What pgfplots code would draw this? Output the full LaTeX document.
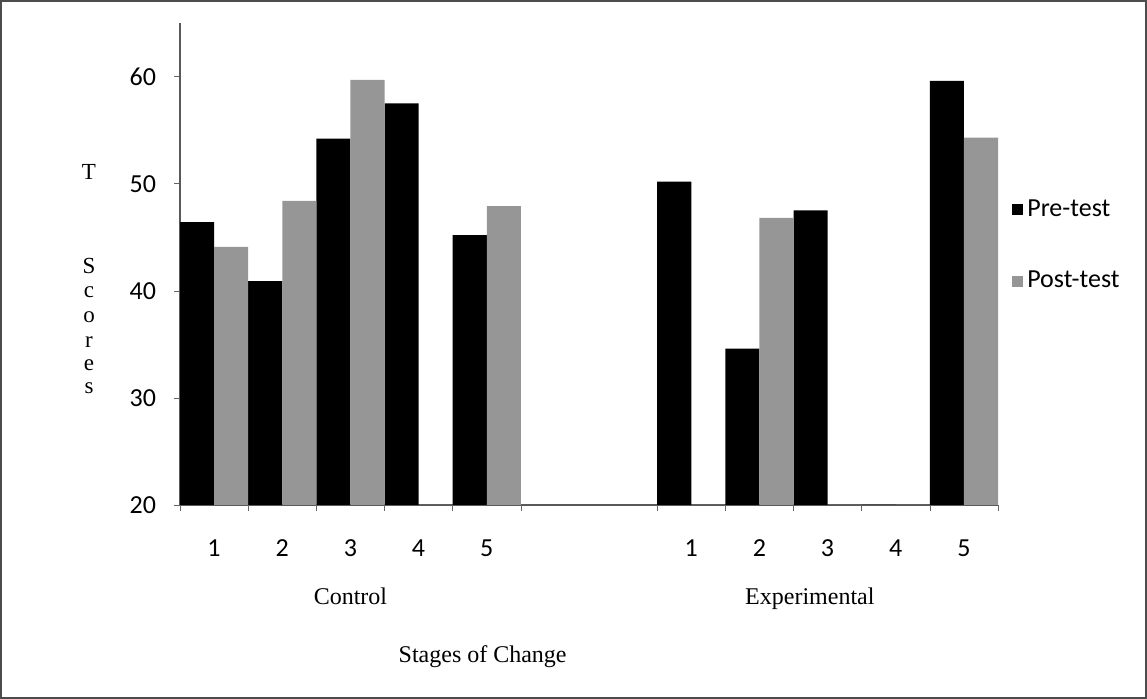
\documentclass[border=0pt]{standalone}
\usepackage{pgfplots}
\pgfplotsset{compat=1.18}
\usepackage{fontspec}
\setmainfont{Liberation Serif}
\newfontfamily\calibri{Carlito}
\definecolor{postgray}{RGB}{150,150,150}
\begin{document}
\begin{tikzpicture}
\path[use as bounding box] (0,0) rectangle (573.5pt,349.5pt);
\draw[black!70, line width=0.8pt] (0.5pt,0.5pt) rectangle (573pt,349pt);
\begin{axis}[
  at={(90pt,97pt)}, anchor=south west,
  scale only axis, width=409pt, height=241pt,
  xmin=-0.5, xmax=11.5, ymin=20, ymax=65,
  axis lines=left, axis line style={-, black!65, line width=0.6pt},
  ybar=0pt, bar width=0.5,
  ytick={20,30,40,50,60},
  xtick={0,1,2,3,4,7,8,9,10,11},
  xticklabels={1,2,3,4,5,1,2,3,4,5},
  tick align=outside, major tick length=3pt,
  xtick style={draw=none},
  ytick style={draw=black!60},
  extra x ticks={-0.5,0.5,1.5,2.5,3.5,4.5,6.5,7.5,8.5,9.5,10.5,11.5},
  extra x tick labels={},
  extra x tick style={xtick style={draw=black!60}},
  /pgf/number format/assume math mode=true,
  ticklabel style={font=\calibri\fontsize{13}{15}\selectfont},
  xticklabel style={yshift=-11pt},
  yticklabel style={xshift=-5.5pt},
  clip=false,
  legend style={at={(1.017,0.539)}, anchor=west, draw=none, fill=none,
    font=\calibri\fontsize{13}{15}\selectfont, row sep=22pt, inner xsep=0pt,
    /tikz/every even column/.append style={column sep=0pt}},
  legend cell align=left,
  legend image code/.code={\fill[#1] (0pt,-2.75pt) rectangle (5.5pt,2.75pt);},
]
\addplot[fill=black, draw=none] coordinates {
  (0,46.4) (1,40.9) (2,54.2) (3,57.5) (4,45.2)
  (7,50.2) (8,34.6) (9,47.5) (10,20) (11,59.6)};
\addplot[fill=postgray, draw=none] coordinates {
  (0,44.1) (1,48.4) (2,59.7) (3,20) (4,47.9)
  (7,20) (8,46.8) (9,20) (10,20) (11,54.3)};
\legend{Pre-test,Post-test}
\node[font=\fontsize{12}{14}\selectfont, anchor=base] at (axis cs:2,20) [yshift=-50pt] {Control};
\node[font=\fontsize{12}{14}\selectfont, anchor=base] at (axis cs:8.74,20) [yshift=-50pt] {Experimental};
\node[font=\fontsize{12}{14}\selectfont, anchor=base] at (axis cs:3.94,20) [yshift=-79pt] {Stages of Change};
\end{axis}
\begin{scope}[every node/.style={font=\fontsize{11.5}{13}\selectfont}]
\node at (44.5pt,263.5pt) {T};
\node at (44.5pt,216.5pt) {S};
\node at (44.5pt,203.5pt) {c};
\node at (44.5pt,191pt) {o};
\node at (44.5pt,178.5pt) {r};
\node at (44.5pt,167pt) {e};
\node at (44.5pt,155.5pt) {s};
\end{scope}
\end{tikzpicture}
\end{document}
